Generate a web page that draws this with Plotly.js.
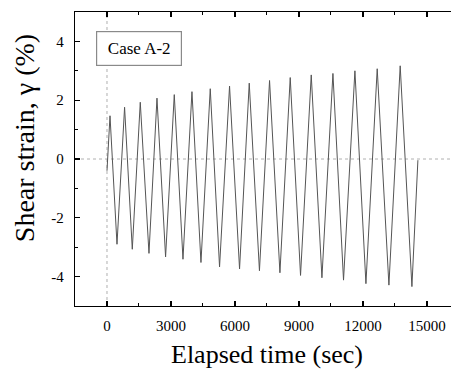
<!DOCTYPE html>
<html>
<head>
<meta charset="utf-8">
<script src="https://cdn.plot.ly/plotly-3.0.1.min.js"></script>
<style>html,body{margin:0;padding:0;background:#fff;}#chart{width:451px;height:372px;}</style>
</head>
<body>
<div id="chart"></div>
<script>
// Elapsed time (sec) at each turning point of the strain record
var timeSec = [0, 141, 469, 825, 1186, 1561, 1969, 2344, 2747, 3155, 3563, 3984, 4406, 4842, 5278, 5747, 6216, 6670, 7148, 7622, 8109, 8592, 9075, 9577, 10078, 10594, 11091, 11625, 12141, 12670, 13219, 13748, 14297, 14578];
// Shear strain (%) at those points
var shearStrain = [-0.4, 1.47, -2.9, 1.76, -3.07, 1.93, -3.21, 2.07, -3.33, 2.19, -3.41, 2.29, -3.52, 2.39, -3.67, 2.48, -3.74, 2.58, -3.80, 2.67, -3.87, 2.77, -3.96, 2.86, -4.04, 2.91, -4.12, 3.0, -4.24, 3.07, -4.29, 3.17, -4.34, -0.04];
var xTickVals = [0, 3000, 6000, 9000, 12000, 15000];
var xTickText = ['0', '3000', '6000', '9000', '12000', '15000'];
var yTickVals = [-4, -2, 0, 2, 4];
var yTickText = ['-4', '-2', '0', '2', '4'];
var caseLabel = 'Case A-2';
var xTitle = 'Elapsed time (sec)';
var yTitle = 'Shear strain, \u03b3 (%)';

var font = '"Liberation Serif", serif';

var trace = {
  x: timeSec, y: shearStrain, type: 'scatter', mode: 'lines',
  line: {color: '#555555', width: 1},
  hoverinfo: 'skip', showlegend: false
};

var layout = {
  width: 451, height: 372,
  margin: {l: 75, r: 0, t: 12, b: 66, pad: 0},
  paper_bgcolor: '#fff', plot_bgcolor: '#fff',
  font: {family: font, size: 15, color: '#000'},
  showlegend: false,
  xaxis: {
    range: [-1500, 16130], showgrid: false, zeroline: false,
    showline: true, linecolor: '#000', linewidth: 1.3, mirror: 'allticks',
    ticks: 'inside', ticklen: 5, tickwidth: 1.3, tickcolor: '#000',
    tickvals: xTickVals, ticktext: xTickText, ticklabelstandoff: 6,
    minor: {dtick: 1500, tick0: 0, ticks: 'inside', ticklen: 3, tickwidth: 1, tickcolor: '#000'},
    tickfont: {family: font, size: 15, color: '#000'}
  },
  yaxis: {
    range: [-5, 5], showgrid: false, zeroline: false,
    showline: true, linecolor: '#000', linewidth: 1.3, mirror: false,
    ticks: 'inside', ticklen: 5, tickwidth: 1.3, tickcolor: '#000',
    tickvals: yTickVals, ticktext: yTickText, ticklabelstandoff: 7,
    minor: {dtick: 1, tick0: 0, ticks: 'inside', ticklen: 3, tickwidth: 1, tickcolor: '#000'},
    tickfont: {family: font, size: 15, color: '#000'}
  },
  shapes: [
    {type: 'line', xref: 'x', yref: 'paper', x0: 0, x1: 0, y0: 0, y1: 1,
     line: {color: '#b0b0b0', width: 1, dash: 'dot'}, layer: 'below'},
    {type: 'line', xref: 'paper', yref: 'y', x0: 0, x1: 1, y0: 0, y1: 0,
     line: {color: '#b0b0b0', width: 1, dash: 'dot'}, layer: 'below'}
  ],
  annotations: [
    {text: caseLabel, xref: 'paper', yref: 'paper', x: 0.1709, y: 0.8763,
     xanchor: 'center', yanchor: 'middle', showarrow: false,
     width: 84, height: 33, borderpad: 0, borderwidth: 1.2, bordercolor: '#8a8a8a', bgcolor: '#fff',
     font: {family: font, size: 17, color: '#000'}},
    {text: xTitle, xref: 'paper', yref: 'paper', x: 0.5095, y: -0.164,
     xanchor: 'center', yanchor: 'middle', showarrow: false,
     font: {family: font, size: 26, color: '#000'}},
    {text: yTitle, xref: 'paper', yref: 'paper', x: -0.1358, y: 0.5707,
     xanchor: 'center', yanchor: 'middle', showarrow: false, textangle: -90,
     font: {family: font, size: 28, color: '#000'}}
  ]
};

Plotly.newPlot('chart', [trace], layout, {staticPlot: true, displayModeBar: false});
</script>
</body>
</html>
